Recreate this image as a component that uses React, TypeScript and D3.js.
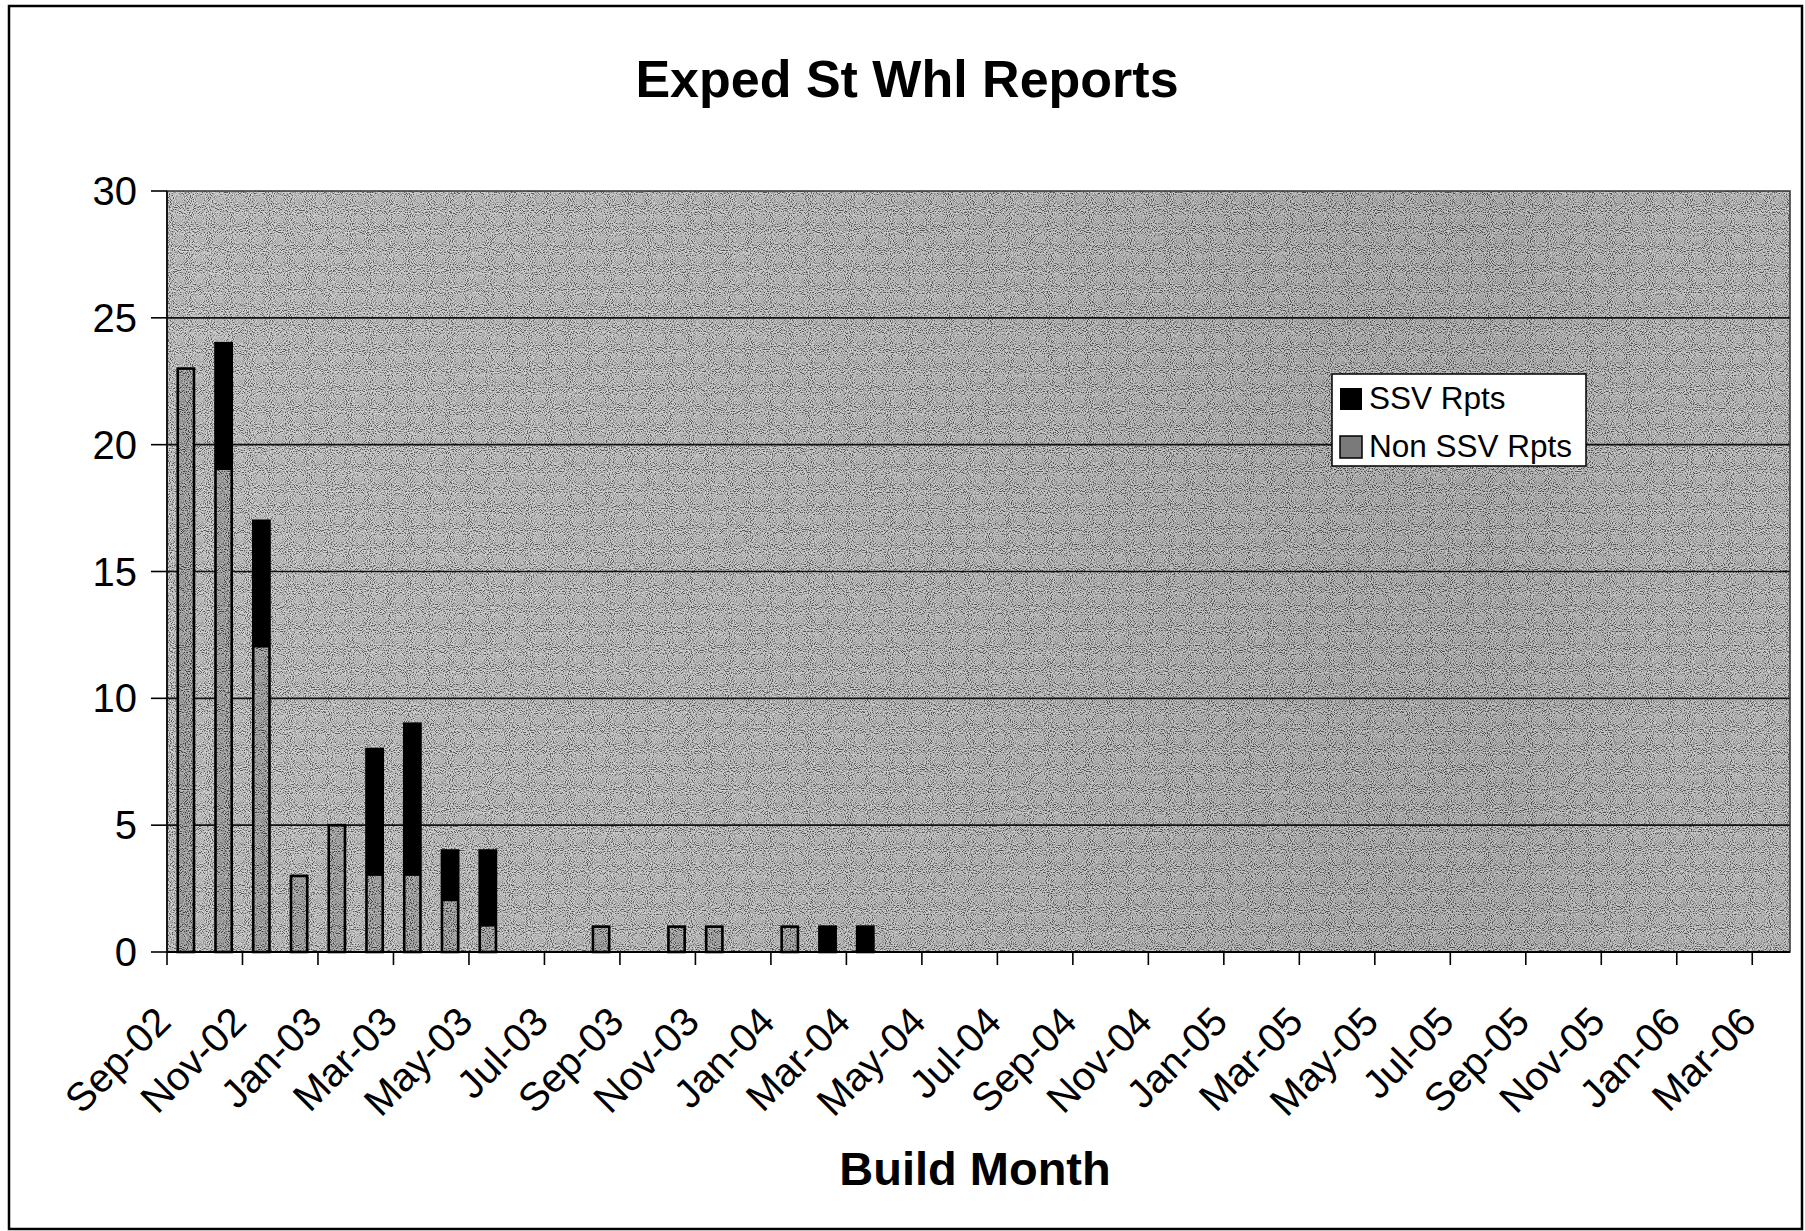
import React from "react";
import * as d3 from "d3";

const months = [
  "Sep-02","Oct-02","Nov-02","Dec-02","Jan-03","Feb-03","Mar-03","Apr-03","May-03","Jun-03",
  "Jul-03","Aug-03","Sep-03","Oct-03","Nov-03","Dec-03","Jan-04","Feb-04","Mar-04","Apr-04",
  "May-04","Jun-04","Jul-04","Aug-04","Sep-04","Oct-04","Nov-04","Dec-04","Jan-05","Feb-05",
  "Mar-05","Apr-05","May-05","Jun-05","Jul-05","Aug-05","Sep-05","Oct-05","Nov-05","Dec-05",
  "Jan-06","Feb-06","Mar-06",
];
const nonSsvRpts = [23,19,12,3,5,3,3,2,1,0,0,1,0,1,1,0,1,0,0,0,0,0,0,0,0,0,0,0,0,0,0,0,0,0,0,0,0,0,0,0,0,0,0];
const ssvRpts =    [0,5,5,0,0,5,6,2,3,0,0,0,0,0,0,0,0,1,1,0,0,0,0,0,0,0,0,0,0,0,0,0,0,0,0,0,0,0,0,0,0,0,0];
const yTicks = [0, 5, 10, 15, 20, 25, 30];
const seriesNames = ["SSV Rpts", "Non SSV Rpts"];
const title = "Exped St Whl Reports";
const xTitle = "Build Month";

const FONT = "'Liberation Sans', Arial, Helvetica, sans-serif";

export default function App() {
  const W = 1805, H = 1231;
  const left = 167, right = 1790, top = 191, bottom = 952;

  const x = d3.scaleBand<string>().domain(months).range([left, right]).padding(0);
  const y = d3.scaleLinear().domain([0, 30]).range([bottom, top]);
  const bw = x.bandwidth();
  const barW = bw * 0.43;

  const rows = months.map((m, i) => ({ m, non: nonSsvRpts[i], ssv: ssvRpts[i] }));
  const stack = d3.stack<any>().keys(["non", "ssv"])(rows);
  const nonLayer = stack[0];
  const ssvLayer = stack[1];

  const labelIdx = months.map((_, i) => i).filter((i) => i % 2 === 0);

  return (
    <svg width={W} height={H} style={{ position: "absolute", left: 0, top: 0, background: "#fff" }}
      fontFamily={FONT}>
      <defs>
        <linearGradient id="bg" x1="0" y1="0" x2="1" y2="0">
          <stop offset="0" stopColor="#b2b2b2" />
          <stop offset="0.3" stopColor="#aaaaaa" />
          <stop offset="0.55" stopColor="#9e9e9e" />
          <stop offset="0.72" stopColor="#919191" />
          <stop offset="0.82" stopColor="#909090" />
          <stop offset="0.92" stopColor="#a0a0a0" />
          <stop offset="1" stopColor="#a4a4a4" />
        </linearGradient>
        <filter id="noise" x="0" y="0" width="100%" height="100%" filterUnits="objectBoundingBox">
          <feTurbulence type="fractalNoise" baseFrequency="0.95" numOctaves="1" seed="7" result="t" />
          <feColorMatrix in="t" type="matrix"
            values="3.4 0 0 0 -1.2  3.4 0 0 0 -1.2  3.4 0 0 0 -1.2  0 0 0 0 0.5" />
        </filter>
      </defs>

      {/* outer chart border */}
      <rect x={9} y={6} width={1793} height={1223} fill="#fff" stroke="#000" strokeWidth={2.5} />

      {/* title */}
      <text x={907} y={97} textAnchor="middle" fontSize={52} fontWeight="bold">{title}</text>

      {/* plot area */}
      <rect x={left} y={top} width={right - left} height={bottom - top} fill="url(#bg)" />
      <rect x={left} y={top} width={right - left} height={bottom - top} fill="#888" filter="url(#noise)" />

      {/* gridlines */}
      {yTicks.filter((t) => t > 0 && t < 30).map((t) => (
        <line key={t} x1={left} x2={right} y1={y(t)} y2={y(t)} stroke="#111" strokeWidth={1.6} />
      ))}
      <rect x={left} y={top} width={right - left} height={bottom - top} fill="none" stroke="#333" strokeWidth={1.5} />

      {/* bars */}
      {nonLayer.map((d, i) => {
        const v = d[1] - d[0];
        if (v <= 0) return null;
        const bx = (x(months[i]) as number) + bw / 2 - barW / 2;
        return (
          <g key={"n" + i}>
            <rect x={bx} y={y(d[1])} width={barW} height={y(d[0]) - y(d[1])} fill="#7a7a7a" />
            <rect x={bx} y={y(d[1])} width={barW} height={y(d[0]) - y(d[1])} fill="#777" filter="url(#noise)" />
          </g>
        );
      })}
      {ssvLayer.map((d, i) => {
        const v = d[1] - d[0];
        if (v <= 0) return null;
        const bx = (x(months[i]) as number) + bw / 2 - barW / 2;
        return <rect key={"s" + i} x={bx} y={y(d[1])} width={barW} height={y(d[0]) - y(d[1])} fill="#000" />;
      })}
      {rows.map((r, i) => {
        const tot = r.non + r.ssv;
        if (tot <= 0) return null;
        const bx = (x(months[i]) as number) + bw / 2 - barW / 2;
        return (
          <rect key={"o" + i} x={bx} y={y(tot)} width={barW} height={y(0) - y(tot)}
            fill="none" stroke="#000" strokeWidth={2.6} />
        );
      })}

      {/* axes */}
      <line x1={left} x2={right} y1={bottom} y2={bottom} stroke="#000" strokeWidth={2} />
      <line x1={left} x2={left} y1={top} y2={bottom} stroke="#111" strokeWidth={1.8} />
      {yTicks.map((t) => (
        <g key={"yt" + t}>
          <line x1={left - 16} x2={left} y1={y(t)} y2={y(t)} stroke="#000" strokeWidth={1.6} />
          <text x={137} y={y(t)} dy="0.35em" textAnchor="end" fontSize={40}>{t}</text>
        </g>
      ))}
      {labelIdx.map((i) => {
        const tx = x(months[i]) as number;
        return (
          <g key={"xt" + i}>
            <line x1={tx} x2={tx} y1={bottom} y2={bottom + 13} stroke="#000" strokeWidth={1.6} />
            <text transform={`translate(${tx + 6},${1024}) rotate(-45)`} textAnchor="end" fontSize={40}>
              {months[i]}
            </text>
          </g>
        );
      })}

      {/* x title */}
      <text x={975} y={1185} textAnchor="middle" fontSize={47} fontWeight="bold">{xTitle}</text>

      {/* legend */}
      <rect x={1332} y={374} width={254} height={92} fill="#fff" stroke="#000" strokeWidth={1.5} />
      <rect x={1340} y={388} width={22} height={22} fill="#000" />
      <rect x={1340} y={436} width={22} height={22} fill="#7a7a7a" stroke="#000" strokeWidth={1.5} />
      <text x={1369} y={409} fontSize={31.5}>{seriesNames[0]}</text>
      <text x={1369} y={457} fontSize={31.5}>{seriesNames[1]}</text>
    </svg>
  );
}
